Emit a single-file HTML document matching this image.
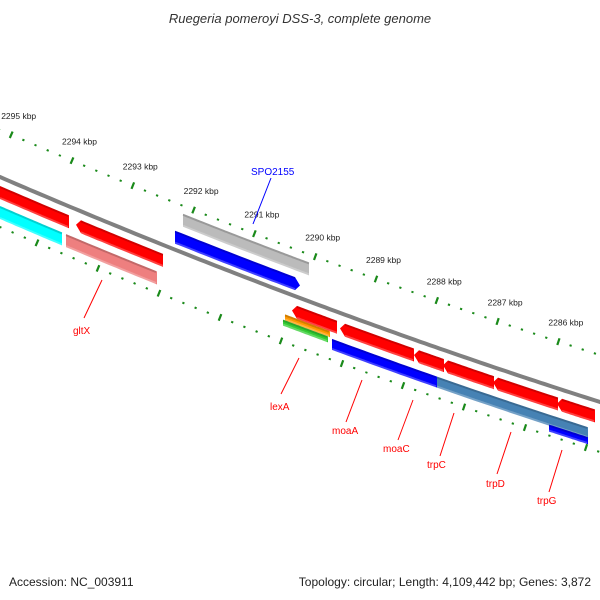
<!DOCTYPE html>
<html><head><meta charset="utf-8"><style>
body{margin:0;background:#fff;}
svg{display:block;font-family:"Liberation Sans",sans-serif;}
</style></head><body>
<svg id="map" width="600" height="600" viewBox="0 0 600 600">
<text x="300" y="23" text-anchor="middle" font-size="13" font-style="italic" fill="#333">Ruegeria pomeroyi DSS-3, complete genome</text>
<text x="9" y="586" font-size="12" fill="#222">Accession: NC_003911</text>
<text x="591" y="586" text-anchor="end" font-size="12" fill="#222">Topology: circular; Length: 4,109,442 bp; Genes: 3,872</text>
<g id="ticks"></g><g id="feat"></g><g id="labels"></g>
</svg>
<script>
const kbpValues=[2295,2294,2293,2292,2291,2290,2289,2288,2287,2286];
const featStart=[0,76,292,340,414,443,493,557, 0,66,332,437,549, 285,283, 183,175];
const featEnd  =[69,163,337,414,444,494,558,595, 62,157,437,588,588, 330,328, 309,300];
const featLaneTop=[9,9,9,9,9,9,9,9, 29,29,29,29,39, 22,28, -39,-19];
const featLaneBot=[22,22,22,22,22,22,22,22, 42,42,40,40,46, 28,34, -26,-6];
const featColor=['#f00','#f00','#f00','#f00','#f00','#f00','#f00','#f00','#0ff','#ee7f7f','#00f','#4682b4','#00f','#ff9900','#33cc33','#bbb','#00f'];
const featArrow=[0,-1,-1,-1,-1,-1,-1,-1, 0,0,0,0,0, 0,0, 0,1];
const geneNames=['gltX','lexA','moaA','moaC','trpC','trpD','trpG'];
const geneLabelX=[73,270,332,383,427,486,537];
const geneLabelY=[334,410,434,452,468,487,504];
const geneLineFrom=[[84,318],[281,394],[346,422],[398,440],[440,456],[497,474],[549,492]];
const geneLineTo=[[102,280],[299,358],[362,380],[413,400],[454,413],[511,432],[562,450]];
const NS='http://www.w3.org/2000/svg';
function Y(x){return 177+0.4317*x-0.0000944*x*x;}
function mk(tag,attrs,parent){const e=document.createElementNS(NS,tag);for(const k in attrs)e.setAttribute(k,attrs[k]);parent.appendChild(e);return e;}
const T=document.getElementById('ticks'),F=document.getElementById('feat'),L=document.getElementById('labels');
// backbone
let d='';for(let x=-5;x<=605;x+=5){d+=(x<0?'M':'L')+x+','+Y(x).toFixed(1);}
let bb=mk('path',{d:d,stroke:'#808080','stroke-width':4,fill:'none'},F);


// ticks
function slopeAng(x){return Math.atan(0.4317-2*0.0000944*x);}
function tick(x,off,major){
  const y=Y(x)+off,a=slopeAng(x);const nx=-Math.sin(a),ny=Math.cos(a);
  const len=major?3.5:1;
  const l=mk('line',{x1:(x-nx*len).toFixed(1),y1:(y-ny*len).toFixed(1),x2:(x+nx*len).toFixed(1),y2:(y+ny*len).toFixed(1),stroke:'#1a8a1a','stroke-width':2.2},T);
  
  
}
const kStep=60.8;
for(let i=-1;i<kbpValues.length+1;i++){
  for(let s=0;s<5;s++){
    const xu=72+(i-1)*kStep+s*kStep/5; if(xu>-5&&xu<605)tick(xu,-47,s===0);
    const xl=37+(i-1)*61+s*61/5; if(xl>-5&&xl<605)tick(xl,50,s===0);
  }
}
kbpValues.forEach((k,i)=>{
  const xu=72+(2294-k)*kStep;
  const t=mk('text',{x:(xu-10).toFixed(1),y:(Y(xu)-47-16).toFixed(1),'font-size':8.5,fill:'#222'},L);
  t.textContent=k+' kbp';
  
  
});
// features
featStart.forEach((x1,i)=>{
  const x2=featEnd[i],o1=featLaneTop[i],o2=featLaneBot[i],ar=featArrow[i];
  const top=[],bot=[];const h=5;
  const a1=ar<0?x1+h:x1,a2=ar>0?x2-h:x2;
  for(let x=a1;x<=a2;x+=Math.max(1,(a2-a1)/20)){top.push([x,Y(x)+o1]);bot.push([x,Y(x)+o2]);}
  top.push([a2,Y(a2)+o1]);bot.push([a2,Y(a2)+o2]);
  let pts=top.slice();
  if(ar>0)pts.push([x2,Y(x2)+(o1+o2)/2]);
  pts=pts.concat(bot.reverse());
  if(ar<0)pts.push([x1,Y(x1)+(o1+o2)/2]);
  const p=mk('polygon',{points:pts.map(q=>q[0].toFixed(1)+','+q[1].toFixed(1)).join(' '),fill:featColor[i]},F);
  
  
  let e='';for(let x=a1;x<=a2;x+=2){e+=(x===a1?'M':'L')+x+','+(Y(x)+o1+1).toFixed(1);}
  const sh=mk('path',{d:e,stroke:'rgba(0,0,0,0.18)','stroke-width':2,fill:'none'},F);
  
  
  let e2='';for(let x=a1;x<=a2;x+=2){e2+=(x===a1?'M':'L')+x+','+(Y(x)+o2-1).toFixed(1);}
  const hl=mk('path',{d:e2,stroke:'rgba(255,255,255,0.25)','stroke-width':2,fill:'none'},F);
  
  
});
// gene labels
geneNames.forEach((n,i)=>{
  const ln=mk('line',{x1:geneLineFrom[i][0],y1:geneLineFrom[i][1],x2:geneLineTo[i][0],y2:geneLineTo[i][1],stroke:'#f00','stroke-width':1},L);
  
  
  const t=mk('text',{x:geneLabelX[i],y:geneLabelY[i],'font-size':10,fill:'#f00'},L);
  t.textContent=n;
  
  
});
const sl=mk('line',{x1:271,y1:178,x2:253,y2:224,stroke:'#00f','stroke-width':1},L);


const st=mk('text',{x:251,y:175,'font-size':10,fill:'#00f'},L);
st.textContent='SPO2155';


</script>
</body></html>
